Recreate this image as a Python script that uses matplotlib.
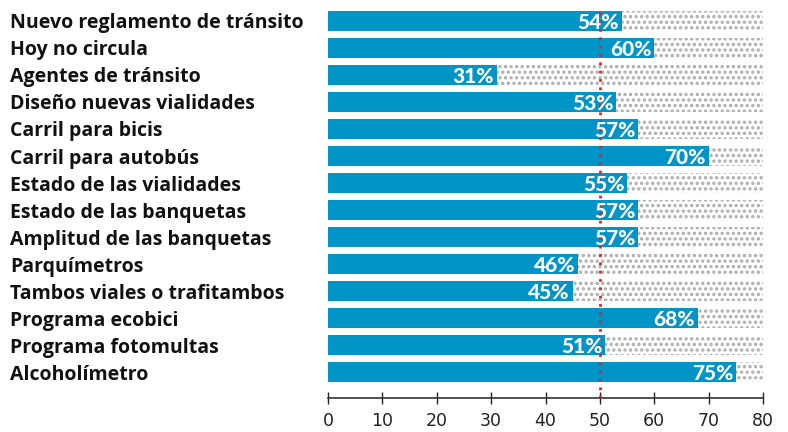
import matplotlib.pyplot as plt

# Datos
categorias = ['Nuevo reglamento de tránsito', 'Hoy no circula', 'Agentes de tránsito',
              'Diseño nuevas vialidades', 'Carril para bicis', 'Carril para autobús',
              'Estado de las vialidades', 'Estado de las banquetas', 'Amplitud de las banquetas',
              'Parquímetros', 'Tambos viales o trafitambos', 'Programa ecobici',
              'Programa fotomultas', 'Alcoholímetro']
valores = [54, 60, 31, 53, 57, 70, 55, 57, 57, 46, 45, 68, 51, 75]
maximo = 80
referencia = 50

azul = '#0095c6'
plt.rcParams['hatch.color'] = '#ababab'
plt.rcParams['hatch.linewidth'] = 1.6

fig = plt.figure(figsize=(7.88, 4.32), dpi=100)
ax = fig.add_axes([328 / 788, 1 - 398 / 432, 435 / 788, 390 / 432])

y = list(range(len(categorias)))
# fondo punteado hasta 80
ax.barh(y, [maximo] * len(y), height=0.75, color='white', hatch='...',
        edgecolor='#ababab', linewidth=0, zorder=1)
ax.barh(y, valores, height=0.75, color=azul, zorder=2)

# etiquetas encima de la linea roja
for yi, v in zip(y, valores):
    ax.text(v - 0.5, yi + 0.05, f'{v}%', ha='right', va='center', color='white',
            fontsize=15, fontweight='black', family='Lato', zorder=5)

ax.axvline(referencia, color='#e8202a', linestyle=(0, (1, 2)), linewidth=2, zorder=4)

ax.set_xlim(0, maximo)
ax.set_ylim(13.96, -0.48)
ax.set_xticks(range(0, 81, 10))
ax.tick_params(axis='x', direction='inout', length=8, width=1, labelsize=12.5, pad=6,
               colors='#222222')
ax.set_yticks(y)
ax.set_yticklabels(categorias, ha='left', fontsize=14, fontweight='bold', family='Open Sans',
                   color='#111111')
ax.tick_params(axis='y', length=0, pad=229)

for s in ['top', 'right', 'left']:
    ax.spines[s].set_visible(False)
ax.spines['bottom'].set_color('#333333')
ax.spines['bottom'].set_linewidth(1.2)

fig.savefig('out.png', dpi=100)
